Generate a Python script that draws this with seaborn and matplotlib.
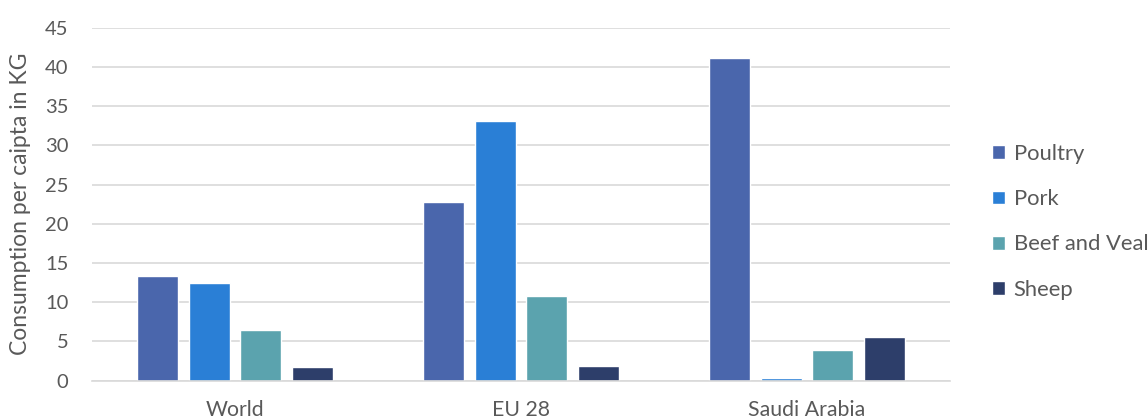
import numpy as np
import pandas as pd
import seaborn as sns
import matplotlib.pyplot as plt

# values
regions = ['World', 'EU 28', 'Saudi Arabia']
meats = ['Poultry', 'Pork', 'Beef and Veal', 'Sheep']
poultry = [13.4, 22.8, 41.2]
pork = [12.5, 33.1, 0.3]
beef_veal = [6.4, 10.8, 3.9]
sheep = [1.7, 1.8, 5.5]
colors = ['#4A66AC', '#2A7FD6', '#5BA3AE', '#2D3E6A']
yticks = [0, 5, 10, 15, 20, 25, 30, 35, 40, 45]

df = pd.DataFrame({
    'region': regions * 4,
    'meat': np.repeat(meats, len(regions)),
    'kg': poultry + pork + beef_veal + sheep,
})

sns.set_theme(style='white')
plt.rcParams['font.family'] = ['Lato', 'DejaVu Sans']
grey = '#595959'

fig = plt.figure(figsize=(11.48, 4.19), dpi=100)
ax = fig.add_axes([92 / 1148, 1 - 380.5 / 419, 858 / 1148, 352.5 / 419])

sns.barplot(data=df, x='region', y='kg', hue='meat', order=regions, hue_order=meats,
            palette=colors, width=0.72, gap=0.2, saturation=1, ax=ax)

ax.set_ylim(0, 45)
ax.set_xlim(-0.5, 2.5)
ax.set_yticks(yticks)
ax.yaxis.grid(True, color='#D9D9D9', linewidth=1.2)
ax.set_axisbelow(True)
for s in ['left', 'right', 'top']:
    ax.spines[s].set_visible(False)
ax.spines['bottom'].set_color('#D9D9D9')
ax.spines['bottom'].set_linewidth(1.2)
ax.tick_params(axis='y', length=0, pad=17, labelsize=14.5, labelcolor=grey)
ax.tick_params(axis='x', length=0, pad=14, labelsize=15.3, labelcolor=grey)
ax.set_xlabel('')
ax.set_ylabel('Consumption per caipta in KG', fontsize=16.5, color=grey, labelpad=10)

ax.legend(loc='center left', bbox_to_anchor=(880 / 858, 0.45), frameon=False,
          fontsize=15.8, labelcolor=grey, handlelength=0.6, handleheight=0.6,
          handletextpad=0.4, labelspacing=1.15)

fig.savefig('out.png', dpi=100)
